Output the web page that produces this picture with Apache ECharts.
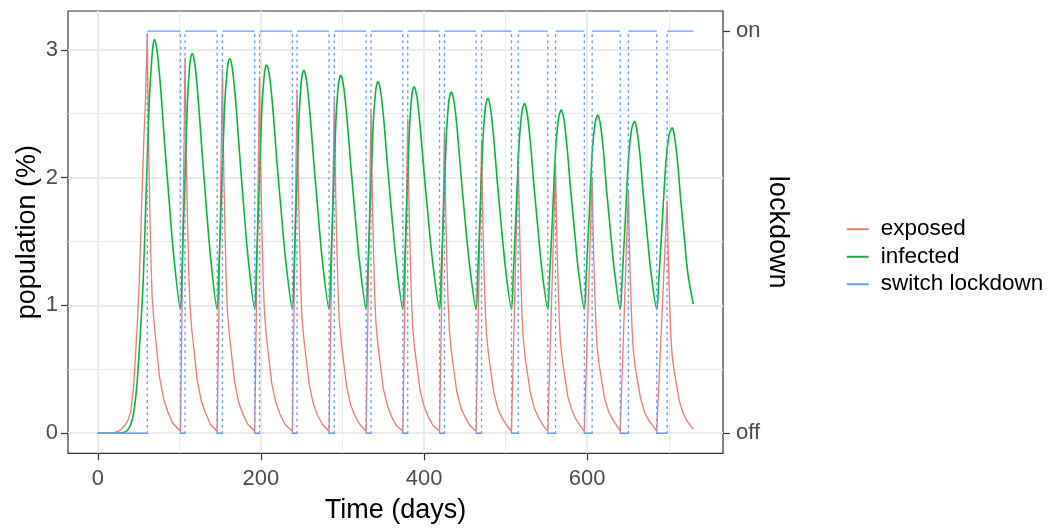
<!DOCTYPE html>
<html><head><meta charset="utf-8">
<script src="https://cdn.jsdelivr.net/npm/echarts@6/dist/echarts.min.js"></script>
<style>html,body{margin:0;padding:0;background:#fff}#c{width:1057px;height:532px}</style>
</head><body><div id="c"></div>
<script>
const xTicks = [0, 200, 400, 600];
const xMinor = [100, 300, 500, 700];
const yTicks = [0, 1, 2, 3];
const yMinor = [0.5, 1.5, 2.5];
const lockTicks = ['off', 'on'];
const seriesNames = ['exposed', 'infected', 'switch lockdown'];

// lockdown switch times (days)
const onTimes = [60.7, 107, 152.8, 198.3, 244.3, 290, 335, 380, 425, 470.5, 515.5, 561.2, 606.1, 650.5, 698];
const offTimes = [101.4, 146.3, 192.4, 238.6, 283.5, 329, 374, 419, 463.8, 507.2, 551.7, 596.5, 640.5, 685.3];
const endDay = 730;

const exposed = [
[0,0],[20,0.002],[27,0.02],[33,0.06],[37,0.1],[40.4,0.17],[44,0.36],[46.9,0.68],[49,0.92],[51,1.2],[54,1.82],[56.5,2.3],[58.4,2.6],[60.7,3.13],
[61.7,2.57],[62.7,2.13],[63.9,1.72],[65.2,1.35],[66.7,1.06],[69.2,0.85],[71.7,0.69],[75.7,0.44],[80.7,0.27],[85.7,0.17],[91.7,0.08],[101.4,0.015],
[107,2.94],[108,2.41],[109,2.00],[110.2,1.62],[111.5,1.26],[113,1.00],[115.5,0.79],[118,0.65],[122,0.41],[127,0.25],[132,0.16],[138,0.07],[146.3,0.015],
[152.8,2.85],[153.8,2.34],[154.8,1.94],[156,1.57],[157.3,1.23],[158.8,0.97],[161.3,0.77],[163.8,0.63],[167.8,0.40],[172.8,0.24],[177.8,0.15],[183.8,0.07],[192.4,0.015],
[198.3,2.79],[199.3,2.29],[200.3,1.90],[201.5,1.53],[202.8,1.20],[204.3,0.95],[206.8,0.75],[209.3,0.61],[213.3,0.39],[218.3,0.24],[223.3,0.15],[229.3,0.07],[238.6,0.015],
[244.3,2.69],[245.3,2.21],[246.3,1.83],[247.5,1.48],[248.8,1.16],[250.3,0.91],[252.8,0.73],[255.3,0.59],[259.3,0.38],[264.3,0.23],[269.3,0.14],[275.3,0.07],[283.5,0.015],
[290,2.62],[291,2.15],[292,1.78],[293.2,1.44],[294.5,1.13],[296,0.89],[298.5,0.71],[301,0.58],[305,0.37],[310,0.22],[315,0.14],[321,0.07],[329,0.015],
[335,2.53],[336,2.07],[337,1.72],[338.2,1.39],[339.5,1.09],[341,0.86],[343.5,0.68],[346,0.56],[350,0.35],[355,0.22],[360,0.13],[366,0.06],[374,0.015],
[380,2.46],[381,2.02],[382,1.67],[383.2,1.35],[384.5,1.06],[386,0.84],[388.5,0.66],[391,0.54],[395,0.34],[400,0.21],[405,0.13],[411,0.06],[419,0.015],
[425,2.37],[426,1.94],[427,1.61],[428.2,1.30],[429.5,1.02],[431,0.81],[433.5,0.64],[436,0.52],[440,0.33],[445,0.20],[450,0.13],[456,0.06],[463.8,0.015],
[470.5,2.28],[471.5,1.87],[472.5,1.55],[473.7,1.25],[475,0.98],[476.5,0.78],[479,0.62],[481.5,0.50],[485.5,0.32],[490.5,0.19],[495.5,0.12],[501.5,0.06],[507.2,0.015],
[515.5,2.20],[516.5,1.80],[517.5,1.50],[518.7,1.21],[520,0.95],[521.5,0.75],[524,0.59],[526.5,0.48],[530.5,0.31],[535.5,0.19],[540.5,0.12],[546.5,0.055],[551.7,0.015],
[561.2,2.10],[562.2,1.72],[563.2,1.43],[564.4,1.16],[565.7,0.90],[567.2,0.71],[569.7,0.57],[572.2,0.46],[576.2,0.29],[581.2,0.18],[586.2,0.11],[592.2,0.05],[596.5,0.015],
[606.1,2.00],[607.1,1.64],[608.1,1.36],[609.3,1.10],[610.6,0.86],[612.1,0.68],[614.6,0.54],[617.1,0.44],[621.1,0.28],[626.1,0.17],[631.1,0.11],[637.1,0.05],[640.5,0.015],
[650.5,1.90],[651.5,1.56],[652.5,1.29],[653.7,1.05],[655,0.82],[656.5,0.65],[659,0.51],[661.5,0.42],[665.5,0.27],[670.5,0.16],[675.5,0.10],[681.5,0.05],[685.3,0.015],
[698,1.82],[699,1.49],[700,1.24],[701.2,1.00],[702.5,0.78],[704,0.62],[706.5,0.49],[709,0.40],[713,0.25],[718,0.15],[723,0.09],[730,0.03]
];

const infected = [
[0,0],[20,0],[30,0.003],[35,0.015],[40,0.06],[44,0.16],[48,0.38],[51,0.66],[53.5,0.92],[55.8,1.2],[59,1.82],[61,2.2],[63.2,2.6],[65.5,2.86],[67.5,3.02],[69.3,3.08],
[70.9,3.06],[73.5,2.95],[77.6,2.66],[81.8,2.28],[87,1.86],[93.1,1.39],[101.4,0.97],
[103.4,1.31],[106,1.81],[109.9,2.59],[112.6,2.87],[114.4,2.95],[115.8,2.97],[117.3,2.95],[119.8,2.85],[123.7,2.57],[127.7,2.21],[132.6,1.81],[138.4,1.37],[146.3,0.97],
[148.5,1.30],[151.3,1.79],[155.5,2.56],[158.5,2.83],[160.3,2.91],[161.9,2.93],[163.4,2.91],[165.9,2.81],[169.8,2.54],[173.8,2.19],[178.7,1.79],[184.5,1.36],[192.4,0.97],
[194.4,1.30],[197.1,1.77],[201,2.52],[203.8,2.78],[205.5,2.86],[207,2.88],[208.6,2.86],[211.1,2.77],[215.2,2.50],[219.3,2.15],[224.4,1.77],[230.4,1.35],[238.6,0.97],
[240.6,1.29],[243.1,1.76],[246.9,2.49],[249.5,2.75],[251.2,2.82],[252.6,2.84],[254.1,2.82],[256.6,2.73],[260.6,2.47],[264.7,2.13],[269.6,1.76],[275.5,1.34],[283.5,0.97],
[285.5,1.28],[288.1,1.74],[292,2.45],[294.7,2.71],[296.5,2.78],[297.9,2.80],[299.5,2.78],[301.9,2.69],[306,2.43],[310,2.11],[315,1.74],[320.9,1.34],[329,0.97],
[331,1.27],[333.7,1.72],[337.6,2.41],[340.4,2.66],[342.1,2.73],[343.6,2.75],[345.1,2.73],[347.6,2.64],[351.5,2.39],[355.5,2.07],[360.3,1.72],[366.1,1.33],[374,0.97],
[375.9,1.27],[378.4,1.70],[382.1,2.38],[384.7,2.62],[386.3,2.69],[387.7,2.71],[389.3,2.69],[391.8,2.61],[395.8,2.36],[399.9,2.05],[404.9,1.70],[410.9,1.32],[419,0.97],
[421,1.26],[423.6,1.68],[427.5,2.35],[430.2,2.59],[432,2.65],[433.4,2.67],[434.9,2.65],[437.4,2.57],[441.3,2.33],[445.3,2.02],[450.1,1.68],[455.9,1.31],[463.8,0.97],
[465.8,1.25],[468.4,1.66],[472.3,2.31],[475,2.54],[476.8,2.60],[478.2,2.62],[479.7,2.60],[482,2.52],[485.7,2.29],[489.5,1.99],[494.2,1.66],[499.7,1.30],[507.2,0.97],
[509.4,1.24],[512.3,1.65],[516.6,2.27],[519.7,2.50],[521.6,2.56],[523.2,2.58],[524.6,2.56],[526.9,2.48],[530.6,2.26],[534.3,1.97],[538.9,1.65],[544.3,1.29],[551.7,0.97],
[554,1.24],[557,1.63],[561.4,2.23],[564.6,2.45],[566.6,2.51],[568.2,2.53],[569.6,2.51],[571.9,2.44],[575.6,2.22],[579.2,1.94],[583.8,1.63],[589.1,1.28],[596.5,0.97],
[598.8,1.23],[601.8,1.61],[606.2,2.20],[609.4,2.41],[611.4,2.47],[613,2.49],[614.4,2.47],[616.6,2.40],[620.2,2.19],[623.7,1.91],[628.1,1.61],[633.4,1.27],[640.5,0.97],
[643,1.22],[646.1,1.59],[650.8,2.16],[654.2,2.37],[656.3,2.42],[658,2.44],[659.4,2.42],[661.5,2.35],[665.1,2.15],[668.6,1.88],[673,1.59],[678.2,1.26],[685.3,0.97],
[687.9,1.21],[691.3,1.57],[696.5,2.12],[700,2.32],[702.3,2.37],[704.2,2.39],[705.5,2.37],[707.6,2.30],[711,2.11],[714.3,1.85],[718.5,1.57],[723.4,1.25],[730,1.01]
];

// build switch step segments (0 = off, 1 = on) from the switch times
const switchH = [[0, 0], [onTimes[0], 0], [onTimes[0], null]];
for (let i = 0; i < onTimes.length; i++) {
  const endOn = i < offTimes.length ? offTimes[i] : endDay;
  switchH.push([onTimes[i], 1], [endOn, 1], [endOn, null]);
  if (i < offTimes.length) {
    switchH.push([offTimes[i], 0], [onTimes[i + 1], 0], [onTimes[i + 1], null]);
  }
}
const switchV = [];
onTimes.concat(offTimes).sort((a, b) => a - b).forEach(t => {
  switchV.push([t, 0], [t, 1], [t, null]);
});

const FONT = '"Liberation Sans", Arial, Helvetica, sans-serif';
const GRID = '#EBEBEB';
const gridLines = []
  .concat(xMinor.map(v => ({ xAxis: v, lineStyle: { color: GRID, width: 1, type: 'solid' } })))
  .concat(yMinor.map(v => ({ yAxis: v, lineStyle: { color: GRID, width: 1, type: 'solid' } })))
  .concat(xTicks.map(v => ({ xAxis: v, lineStyle: { color: GRID, width: 2, type: 'solid' } })))
  .concat(yTicks.map(v => ({ yAxis: v, lineStyle: { color: GRID, width: 2, type: 'solid' } })));

const tickStyle = { color: '#333333', width: 1.2 };
const labelStyle = { color: '#4D4D4D', fontSize: 22, fontFamily: FONT };
const nameStyle = { color: '#000000', fontSize: 27, fontFamily: FONT };

const chart = echarts.init(document.getElementById('c'), null, { renderer: 'canvas' });
chart.setOption({
  animation: false,
  backgroundColor: '#ffffff',
  grid: { left: 68, right: 334, top: 11, bottom: 78.7, show: true, borderColor: '#333333', borderWidth: 1.2, backgroundColor: '#ffffff', containLabel: false },
  legend: {
    orient: 'vertical', left: 841.7, top: 210.5, itemWidth: 22, itemHeight: 2, itemGap: 0,
    textStyle: { fontSize: 22.5, fontFamily: FONT, color: '#000', lineHeight: 27.5, padding: [0, 0, 0, 7] },
    data: seriesNames.map(n => ({ name: n, icon: 'rect' })),
    selectedMode: false
  },
  xAxis: {
    type: 'value', min: -36.5, max: 766.5, position: 'bottom',
    axisLine: { show: false, onZero: false },
    axisTick: { show: true, customValues: xTicks, length: 7, lineStyle: tickStyle },
    axisLabel: Object.assign({ customValues: xTicks, margin: 15 }, labelStyle),
    splitLine: { show: false },
    name: 'Time (days)', nameLocation: 'middle', nameGap: 44, nameTextStyle: nameStyle, nameMoveOverlap: false
  },
  yAxis: [{
    type: 'value', min: -0.1573, max: 3.3033, position: 'left',
    axisLine: { show: false, onZero: false },
    axisTick: { show: true, customValues: yTicks, length: 7, lineStyle: tickStyle },
    axisLabel: Object.assign({ customValues: yTicks, margin: 10 }, labelStyle),
    splitLine: { show: false },
    name: 'population (%)', nameLocation: 'middle', nameGap: 27, nameRotate: 90, nameTextStyle: nameStyle, nameMoveOverlap: false
  }, {
    type: 'value', min: -0.05, max: 1.05, position: 'right',
    axisLine: { show: false, onZero: false },
    axisTick: { show: true, customValues: [0, 1], length: 7, lineStyle: tickStyle },
    axisLabel: Object.assign({ customValues: [0, 1], margin: 13, formatter: v => lockTicks[Math.round(v)] }, labelStyle),
    splitLine: { show: false },
    name: 'lockdown', nameLocation: 'middle', nameGap: 41, nameRotate: -90, nameTextStyle: nameStyle, nameMoveOverlap: false
  }],
  series: [
    { name: '_grid', type: 'line', data: [], silent: true, z: 0,
      markLine: { silent: true, z: 0, zlevel: 0, symbol: 'none', label: { show: false }, animation: false, data: gridLines } },
    { name: 'exposed', type: 'line', data: exposed, showSymbol: false, symbol: 'none', color: '#F8766D',
      lineStyle: { width: 1.3, color: '#F8766D' }, z: 2 },
    { name: 'infected', type: 'line', data: infected, showSymbol: false, symbol: 'none', color: '#00BA38', smooth: 0.3,
      lineStyle: { width: 1.6, color: '#00BA38' }, z: 3 },
    { name: 'switch lockdown', type: 'line', yAxisIndex: 1, data: switchH, showSymbol: false, symbol: 'none', color: '#619CFF',
      connectNulls: false, lineStyle: { width: 1.4, color: '#619CFF' }, z: 4 },
    { name: 'switch_v', type: 'line', yAxisIndex: 1, data: switchV, showSymbol: false, symbol: 'none', color: '#619CFF',
      connectNulls: false, lineStyle: { width: 1.4, color: '#619CFF', type: [1.6, 4.6], cap: 'round' }, z: 4 }
  ]
});
</script></body></html>
